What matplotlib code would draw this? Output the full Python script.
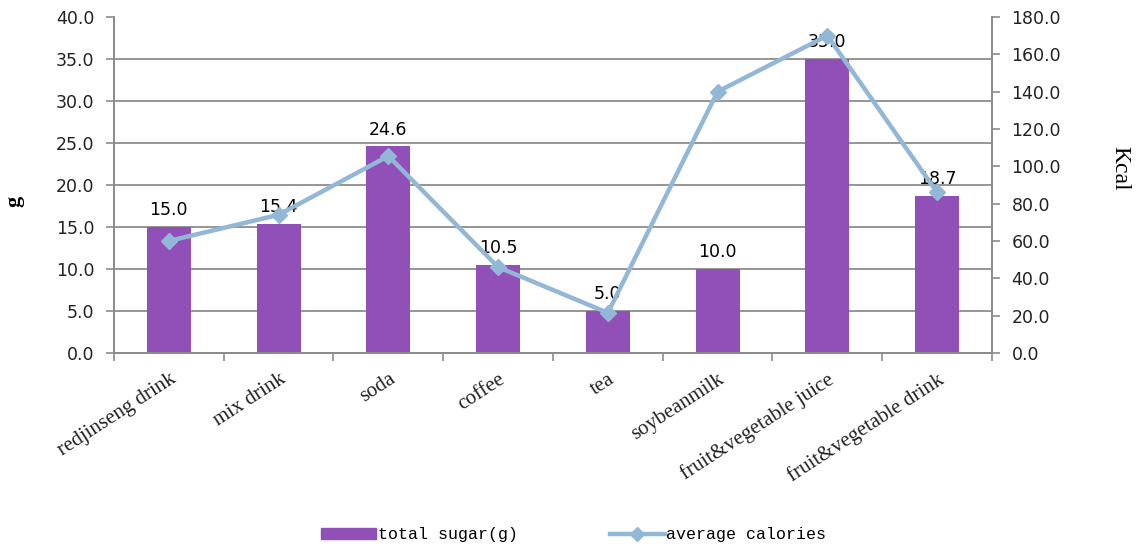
import matplotlib
matplotlib.use("Agg")
import matplotlib.pyplot as plt
from matplotlib.lines import Line2D
from matplotlib.patches import Patch
import numpy as np

categories = ["redjinseng drink", "mix drink", "soda", "coffee", "tea",
              "soybeanmilk", "fruit&vegetable juice", "fruit&vegetable drink"]
total_sugar = [15.0, 15.4, 24.6, 10.5, 5.0, 10.0, 35.0, 18.7]
avg_calories = [60.0, 74.0, 105.5, 46.0, 21.5, 140.0, 170.0, 86.0]
left_ticks = [0, 5, 10, 15, 20, 25, 30, 35, 40]
right_ticks = [0, 20, 40, 60, 80, 100, 120, 140, 160, 180]

bar_color = "#9150B8"
line_color = "#93B7D6"
axis_gray = "#8C8C8C"

fig = plt.figure(figsize=(11.41, 5.47), dpi=100)
ax = fig.add_axes([0.0999, 0.3547, 0.7695, 0.6143])
ax2 = ax.twinx()

x = np.arange(len(categories))
ax.bar(x, total_sugar, width=0.4, color=bar_color, zorder=2)
for xi, v in zip(x, total_sugar):
    ax.text(xi, v + 0.9, f"{v:.1f}", ha="center", va="bottom",
            fontsize=12.5, family="DejaVu Sans", color="#000000", zorder=5)

ax2.plot(x, avg_calories, color=line_color, lw=3.2, marker="D",
         markersize=8, markerfacecolor=line_color, markeredgecolor=line_color,
         zorder=3)

ax.set_xlim(-0.5, len(categories) - 0.5)
ax.set_ylim(0, 40)
ax2.set_ylim(0, 180)

ax.set_yticks(left_ticks)
ax.set_yticklabels([f"{t:.1f}" for t in left_ticks], fontsize=12.5,
                   family="DejaVu Sans", color="#222222")
ax2.set_yticks(right_ticks)
ax2.set_yticklabels([f"{t:.1f}" for t in right_ticks], fontsize=12.5,
                    family="DejaVu Sans", color="#222222")

# category boundaries carry the x ticks, names sit under bar centres
ax.set_xticks(np.arange(-0.5, len(categories) + 0.5, 1.0))
ax.set_xticklabels([])
ax.set_xticks(x, minor=True)
ax.set_xticklabels(categories, minor=True, rotation=33, ha="right",
                   rotation_mode="anchor", fontsize=15,
                   family="Liberation Serif", color="#222222")
ax.tick_params(axis="x", which="minor", length=0, pad=12)
ax.tick_params(axis="x", which="major", length=6, color=axis_gray, width=1.2)
ax.tick_params(axis="y", length=6, color=axis_gray, width=1.2, pad=8)
ax2.tick_params(axis="y", length=6, color=axis_gray, width=1.2, pad=8)

ax.yaxis.grid(True, color=axis_gray, lw=1.3, zorder=0)
ax.set_axisbelow(True)
ax.yaxis.get_gridlines()[-1].set_visible(False)

for a in (ax, ax2):
    a.spines["top"].set_visible(False)
    for s in ("left", "right", "bottom"):
        a.spines[s].set_color(axis_gray)
        a.spines[s].set_linewidth(1.3)

ax.set_ylabel("g", fontsize=16, fontweight="bold", family="Liberation Serif",
              va="center")
ax.yaxis.set_label_coords(-0.113, 0.45)
ax2.set_ylabel("Kcal", fontsize=17, family="Liberation Serif", rotation=270,
               va="center")
ax2.yaxis.set_label_coords(1.146, 0.55)

handles = [Patch(facecolor=bar_color, edgecolor=bar_color),
           Line2D([0], [0], color=line_color, lw=3.2, marker="D",
                  markersize=7, markerfacecolor=line_color,
                  markeredgecolor=line_color)]
fig.legend(handles, ["total sugar(g)", "average calories"], loc="center",
           bbox_to_anchor=(0.503, 0.022), ncol=2, frameon=False,
           prop={"family": "Liberation Mono", "size": 12},
           handlelength=3.3, handleheight=0.6, handletextpad=0.1,
           columnspacing=5.5)

fig.savefig("out.png", dpi=100, facecolor="white")
